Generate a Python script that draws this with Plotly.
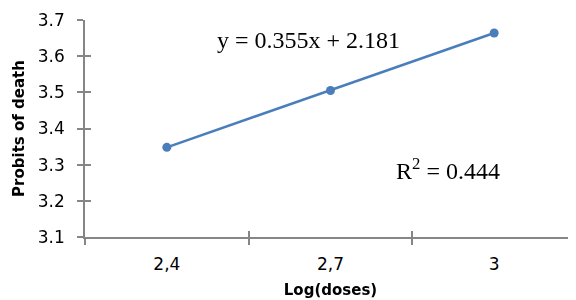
import plotly.graph_objects as go

categories = ["2,4", "2,7", "3"]
probits = [3.348, 3.505, 3.664]
y_ticks = [3.1, 3.2, 3.3, 3.4, 3.5, 3.6, 3.7]
equation = "y = 0.355x + 2.181"
r2_text = "R<sup>2</sup> = 0.444"

axis_color = "#868686"
line_color = "#4a7ebb"
sans = "DejaVu Sans"
serif = "Liberation Serif"

fig = go.Figure()
fig.add_trace(go.Scatter(
    x=categories, y=probits, mode="lines+markers",
    line=dict(color=line_color, width=2.5),
    marker=dict(color=line_color, size=9),
    showlegend=False, hoverinfo="skip",
))
# invisible trace to draw inner halves of the crossing tick marks
fig.add_trace(go.Scatter(
    x=categories, y=probits, mode="markers", opacity=0,
    xaxis="x2", yaxis="y2", showlegend=False, hoverinfo="skip",
))

common_x = dict(type="category", categoryarray=categories, range=[-0.5, 2.5],
                tickson="boundaries", showgrid=False, zeroline=False, automargin=False)
common_y = dict(range=[3.1, 3.7], tickvals=y_ticks, showgrid=False, zeroline=False,
                automargin=False)

# the page body adds an 8px offset, so the figure is 8px smaller than the window
fig.update_layout(
    width=568, height=292,
    margin=dict(l=77, r=0, t=12, b=63),
    paper_bgcolor="white", plot_bgcolor="white",
    xaxis=dict(**common_x, showline=True, linecolor=axis_color, linewidth=1.5,
               ticks="outside", ticklen=6, tickcolor=axis_color, tickwidth=1.5,
               tickfont=dict(family=sans, size=17, color="#000"),
               ticklabelstandoff=11,
               title=dict(text="<b>Log(doses)</b>", standoff=11,
                          font=dict(family=sans, size=15, color="#000"))),
    yaxis=dict(**common_y, showline=True, linecolor=axis_color, linewidth=1.5,
               ticks="outside", ticklen=6, tickcolor=axis_color, tickwidth=1.5,
               tickformat=".1f",
               tickfont=dict(family=sans, size=17, color="#000"),
               ticklabelstandoff=9,
               title=dict(text="<b>Probits of death</b>", standoff=10,
                          font=dict(family=sans, size=15, color="#000"))),
    xaxis2=dict(**common_x, overlaying="x", anchor="y2", side="bottom",
                showline=False, ticks="inside", ticklen=6, tickcolor=axis_color,
                tickwidth=1.5, showticklabels=False),
    yaxis2=dict(**common_y, overlaying="y", anchor="x2", side="left",
                showline=False, ticks="inside", ticklen=6, tickcolor=axis_color,
                tickwidth=1.5, showticklabels=False),
    annotations=[
        dict(text=equation, xref="paper", yref="paper", x=0.456, y=0.908,
             xanchor="center", yanchor="middle", showarrow=False,
             font=dict(family=serif, size=24, color="#000")),
        dict(text=r2_text, xref="paper", yref="paper", x=0.739, y=0.314,
             xanchor="center", yanchor="middle", showarrow=False,
             font=dict(family=serif, size=24, color="#000")),
    ],
)

fig.write_html("out.html")
